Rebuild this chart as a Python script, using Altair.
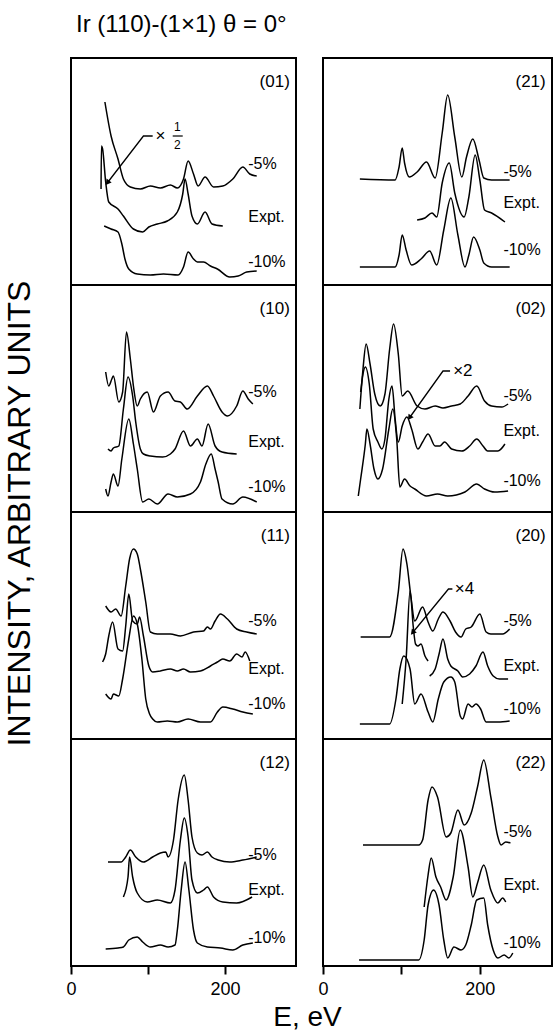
import math
import altair as alt
import pandas as pd

FONT = "Liberation Sans"
X_DOMAIN = [0, 292]
Y_DOMAIN = [0, 227]
LEFT_W, RIGHT_W, PANEL_H = 225, 229, 227

# ---------------- data: energy (eV) and intensity (arb.) ----------------
# (01)
P01_M5_E = [44, 52, 61, 68, 77, 90, 103, 116, 129, 138, 146, 152, 159, 165, 174, 185, 197, 210, 223, 232, 241]
P01_M5_I = [183, 149, 126, 106, 98, 96, 99, 97, 100, 97, 106, 124, 111, 99, 108, 98, 99, 106, 118, 111, 109]
P01_EX_E = [39, 39.5, 41, 45, 49, 61, 68, 81, 93, 101, 112, 125, 138, 145, 148, 152, 157, 164, 174, 183, 197]
P01_EX_I = [96, 139, 136, 103, 83, 76, 69, 56, 53, 58, 61, 64, 73, 91, 106, 91, 69, 61, 73, 61, 59]
P01_M10_E = [43, 52, 61, 66, 70, 75, 86, 103, 120, 139, 146, 152, 159, 164, 172, 181, 190, 206, 217, 228, 241]
P01_M10_I = [59, 56, 53, 41, 26, 16, 11, 10, 11, 10, 18, 33, 26, 23, 23, 19, 16, 8, 9, 13, 14]
# (10)
P10_M5_E = [45, 49, 53, 55, 62, 67, 72, 77, 81, 86, 90, 99, 107, 116, 126, 135, 142, 151, 164, 177, 185, 196, 203, 215, 223, 230, 236]
P10_M5_I = [140, 126, 133, 136, 110, 120, 180, 153, 126, 106, 113, 120, 100, 116, 120, 111, 110, 103, 116, 126, 116, 100, 96, 106, 121, 113, 108]
P10_EX_E = [48, 52, 55, 62, 68, 74, 80, 84, 90, 94, 103, 119, 129, 135, 146, 155, 164, 170, 178, 187, 196, 215]
P10_EX_I = [63, 61, 64, 66, 103, 135, 116, 90, 63, 58, 56, 55, 58, 63, 81, 66, 73, 66, 88, 66, 60, 58]
P10_M10_E = [45, 48, 52, 55, 61, 66, 75, 81, 86, 93, 101, 112, 126, 138, 155, 168, 175, 182, 187, 191, 196, 210, 223, 241]
P10_M10_I = [23, 16, 30, 38, 26, 53, 93, 68, 43, 10, 13, 8, 18, 15, 18, 30, 48, 58, 43, 30, 13, 8, 15, 10]
# (11)
P11_M5_E = [45, 52, 58, 65, 71, 76, 81, 86, 90, 97, 103, 112, 129, 142, 159, 172, 177, 181, 187, 194, 203, 215, 228, 241]
P11_M5_I = [133, 127, 130, 123, 153, 180, 190, 185, 170, 137, 107, 105, 105, 103, 107, 108, 112, 110, 118, 125, 120, 110, 107, 105]
P11_EX_E = [41, 45, 49, 54, 61, 67, 71, 75, 80, 86, 89, 94, 101, 106, 116, 129, 138, 146, 155, 168, 181, 190, 197, 206, 215, 222, 226, 232]
P11_EX_I = [77, 85, 103, 117, 90, 88, 113, 145, 118, 115, 122, 103, 73, 67, 68, 70, 68, 70, 67, 68, 73, 77, 80, 78, 85, 82, 87, 78]
P11_M10_E = [45, 52, 55, 62, 67, 75, 81, 86, 92, 97, 102, 106, 112, 125, 138, 152, 168, 181, 190, 197, 210, 223, 236]
P11_M10_I = [45, 40, 45, 43, 60, 100, 123, 115, 80, 40, 25, 20, 17, 18, 17, 20, 17, 17, 27, 32, 30, 27, 25]
# (12)
P12_M5_E = [48, 65, 71, 77, 84, 94, 106, 116, 123, 126, 133, 139, 147, 152, 157, 164, 170, 177, 183, 191, 206, 223, 241]
P12_M5_I = [104, 104, 109, 116, 109, 104, 109, 113, 114, 109, 126, 166, 191, 166, 129, 113, 111, 114, 109, 106, 104, 106, 109]
P12_EX_E = [68, 74, 76, 80, 86, 99, 112, 129, 135, 142, 147, 152, 157, 164, 172, 177, 185, 197, 215, 235]
P12_EX_I = [69, 89, 109, 89, 73, 64, 66, 63, 76, 126, 148, 129, 86, 73, 76, 79, 69, 64, 63, 69]
P12_M10_E = [45, 61, 68, 75, 86, 93, 103, 116, 126, 135, 138, 143, 148, 153, 159, 164, 177, 194, 210, 223, 236]
P12_M10_I = [17, 18, 19, 26, 29, 24, 19, 21, 19, 21, 36, 76, 104, 76, 36, 23, 19, 18, 16, 21, 23]
# (21)
P21_M5_E = [47, 92, 97, 101, 104, 110, 120, 132, 143, 152, 159, 168, 177, 183, 191, 199, 205, 215, 238]
P21_M5_I = [106, 105, 118, 137, 122, 108, 113, 123, 107, 152, 190, 148, 108, 128, 146, 125, 107, 105, 105]
P21_EX_E = [120, 130, 139, 145, 152, 161, 168, 180, 186, 194, 200, 206, 215, 232]
P21_EX_I = [65, 67, 72, 68, 102, 122, 92, 68, 88, 130, 105, 75, 72, 63]
P21_M10_E = [47, 92, 97, 101, 106, 113, 125, 136, 145, 154, 163, 172, 181, 186, 192, 200, 205, 215, 238]
P21_M10_I = [18, 18, 30, 50, 35, 20, 26, 34, 20, 55, 87, 50, 18, 30, 48, 35, 22, 18, 18]
# (02)
P02_M5_E = [47, 51, 55, 60, 66, 73, 79, 85, 90, 96, 101, 108, 120, 130, 143, 153, 164, 175, 185, 196, 206, 215, 228, 236]
P02_M5_I = [103, 143, 168, 148, 118, 106, 118, 163, 188, 158, 116, 121, 106, 103, 106, 104, 106, 108, 116, 126, 111, 106, 105, 108]
P02_EX_E = [48, 51, 54, 59, 64, 70, 75, 79, 84, 88, 92, 96, 101, 107, 113, 121, 127, 134, 143, 149, 155, 164, 177, 187, 196, 204, 210, 223, 232]
P02_EX_I = [120, 138, 145, 128, 83, 70, 63, 73, 113, 126, 93, 70, 86, 95, 83, 63, 70, 78, 66, 66, 70, 63, 61, 66, 73, 66, 61, 61, 68]
P02_M10_E = [45, 48, 54, 56, 60, 65, 70, 76, 84, 89, 94, 98, 104, 111, 117, 132, 146, 159, 181, 196, 206, 219, 236]
P02_M10_I = [16, 33, 68, 83, 68, 43, 33, 43, 83, 103, 73, 25, 33, 26, 23, 16, 18, 16, 20, 28, 23, 20, 21]
# (20)
P20_M5_E = [48, 85, 96, 102, 107, 112, 117, 127, 134, 140, 147, 153, 162, 169, 176, 182, 189, 200, 208, 214, 229, 238]
P20_M5_I = [102, 102, 147, 190, 175, 143, 118, 132, 117, 108, 120, 127, 118, 107, 102, 110, 112, 125, 107, 105, 105, 110]
P20_EX1_E = [101, 106, 111, 115, 118, 121, 125, 130, 134]
P20_EX1_I = [35, 80, 148, 113, 95, 93, 95, 83, 78]
P20_EX2_E = [136, 143, 148, 153, 159, 163, 172, 178, 187, 195, 204, 210, 217, 225, 236]
P20_EX2_I = [63, 70, 85, 100, 80, 73, 68, 62, 65, 73, 87, 73, 63, 60, 60]
P20_M10_E = [47, 85, 93, 98, 103, 111, 117, 125, 134, 140, 147, 154, 163, 168, 175, 178, 185, 190, 195, 201, 208, 223, 238]
P20_M10_I = [15, 15, 40, 70, 83, 70, 35, 45, 27, 17, 40, 57, 62, 57, 23, 20, 35, 32, 35, 30, 17, 17, 18]
# (22)
P22_M5_E = [51, 122, 127, 134, 139, 146, 157, 163, 172, 180, 189, 197, 205, 214, 223, 227, 233, 239]
P22_M5_I = [121, 121, 126, 166, 179, 169, 129, 133, 156, 141, 153, 179, 206, 169, 129, 121, 124, 123]
P22_EX_E = [129, 134, 138, 144, 150, 157, 166, 175, 185, 191, 197, 205, 214, 223, 229, 233]
P22_EX_I = [59, 91, 108, 89, 79, 66, 89, 136, 99, 69, 83, 101, 76, 63, 68, 64]
P22_M10_E = [46, 122, 129, 134, 141, 148, 154, 159, 167, 176, 182, 189, 196, 205, 210, 217, 223, 231, 237, 242]
P22_M10_I = [6, 6, 26, 61, 76, 61, 26, 8, 19, 16, 21, 41, 66, 68, 41, 16, 8, 11, 8, 13]

# curve labels and their heights per panel (order: -5%, Expt., -10%)
CURVE_LABELS = ["-5%", "Expt.", "-10%"]
LABEL_E = 230
LABEL_I = {
    "01": [121, 68, 23], "10": [120, 70, 25], "11": [118, 70, 35], "12": [111, 76, 28],
    "21": [113, 82, 35], "02": [116, 81, 31], "20": [118, 73, 30], "22": [134, 81, 23],
}
LEFT_PANELS = ["01", "10", "11", "12"]
RIGHT_PANELS = ["21", "02", "20", "22"]

# annotation leader lines: head, knee, end (E, I)
ARROW_E = {"01": [48, 94, 106], "02": [111, 153, 162], "20": [115, 160, 165]}
ARROW_I = {"01": [103, 149, 149], "02": [95, 141, 141], "20": [107, 150, 150]}
ARROW_TEXT = {"02": ("×2", 166, 141), "20": ("×4", 168, 150)}

CURVES = [
    ("01", "m5", P01_M5_E, P01_M5_I), ("01", "ex", P01_EX_E, P01_EX_I), ("01", "m10", P01_M10_E, P01_M10_I),
    ("10", "m5", P10_M5_E, P10_M5_I), ("10", "ex", P10_EX_E, P10_EX_I), ("10", "m10", P10_M10_E, P10_M10_I),
    ("11", "m5", P11_M5_E, P11_M5_I), ("11", "ex", P11_EX_E, P11_EX_I), ("11", "m10", P11_M10_E, P11_M10_I),
    ("12", "m5", P12_M5_E, P12_M5_I), ("12", "ex", P12_EX_E, P12_EX_I), ("12", "m10", P12_M10_E, P12_M10_I),
    ("21", "m5", P21_M5_E, P21_M5_I), ("21", "ex", P21_EX_E, P21_EX_I), ("21", "m10", P21_M10_E, P21_M10_I),
    ("02", "m5", P02_M5_E, P02_M5_I), ("02", "ex", P02_EX_E, P02_EX_I), ("02", "m10", P02_M10_E, P02_M10_I),
    ("20", "m5", P20_M5_E, P20_M5_I), ("20", "ex1", P20_EX1_E, P20_EX1_I), ("20", "ex2", P20_EX2_E, P20_EX2_I),
    ("20", "m10", P20_M10_E, P20_M10_I),
    ("22", "m5", P22_M5_E, P22_M5_I), ("22", "ex", P22_EX_E, P22_EX_I), ("22", "m10", P22_M10_E, P22_M10_I),
]

rows = []
for pid, key, es, vs in CURVES:
    for k, (e, v) in enumerate(zip(es, vs)):
        rows.append({"panel": pid, "key": key, "idx": k, "E": e, "I": v})
df = pd.DataFrame(rows)


def make_panel(pid, width, bottom, title=None):
    if bottom:
        axis = alt.Axis(values=[0, 100, 200], labelExpr="datum.value == 100 ? '' : datum.label",
                        tickSize=8, tickWidth=2, tickColor="black", domain=False, grid=False,
                        labelFontSize=18, labelFont=FONT, labelColor="black", title=None,
                        labelPadding=6, labelFlush=False)
    else:
        axis = None
    x = alt.X("E:Q", scale=alt.Scale(domain=X_DOMAIN, nice=False, zero=False), axis=axis)
    y = alt.Y("I:Q", scale=alt.Scale(domain=Y_DOMAIN, nice=False, zero=False), axis=None)

    lines = alt.Chart(df[df.panel == pid]).mark_line(
        color="black", strokeWidth=1.5, interpolate="monotone"
    ).encode(x=x, y=y, detail="key:N", order="idx:Q")

    lab = pd.DataFrame({"E": [LABEL_E] * 3, "I": LABEL_I[pid], "t": CURVE_LABELS})
    labels = alt.Chart(lab).mark_text(
        align="left", baseline="middle", fontSize=16, font=FONT, color="black"
    ).encode(x=x, y=y, text="t:N")

    pl = pd.DataFrame({"E": [284], "I": [203], "t": [f"({pid})"]})
    plabel = alt.Chart(pl).mark_text(
        align="right", baseline="middle", fontSize=17, font=FONT, color="black"
    ).encode(x=x, y=y, text="t:N")

    layers = [lines, labels, plabel]

    if pid in ARROW_E:
        ae, ai = ARROW_E[pid], ARROW_I[pid]
        adf = pd.DataFrame({"E": ae, "I": ai, "o": [0, 1, 2]})
        layers.append(alt.Chart(adf).mark_line(color="black", strokeWidth=1.3).encode(x=x, y=y, order="o:Q"))
        pxE = width / (X_DOMAIN[1] - X_DOMAIN[0])
        pxI = PANEL_H / (Y_DOMAIN[1] - Y_DOMAIN[0])
        dx = (ae[0] - ae[1]) * pxE
        dy = -(ai[0] - ai[1]) * pxI
        ang = (math.degrees(math.atan2(dx, -dy)) + 360) % 360
        hdf = pd.DataFrame({"E": [ae[0]], "I": [ai[0]]})
        layers.append(alt.Chart(hdf).mark_point(
            shape="triangle", filled=True, size=40, angle=ang, color="black", opacity=1
        ).encode(x=x, y=y))
        if pid in ARROW_TEXT:
            t, te, ti = ARROW_TEXT[pid]
            tdf = pd.DataFrame({"E": [te], "I": [ti], "t": [t]})
            layers.append(alt.Chart(tdf).mark_text(
                align="left", baseline="middle", fontSize=17, font=FONT, color="black"
            ).encode(x=x, y=y, text="t:N"))
        else:
            tdf = pd.DataFrame({"E": [116, 138, 138], "I": [149, 158, 140], "t": ["×", "1", "2"],
                                "s": [17, 12, 12]})
            layers.append(alt.Chart(tdf).mark_text(
                align="center", baseline="middle", font=FONT, color="black"
            ).encode(x=x, y=y, text="t:N", size=alt.Size("s:Q", scale=None, legend=None)))
            bdf = pd.DataFrame({"E": [132, 145], "I": [149, 149]})
            layers.append(alt.Chart(bdf).mark_line(color="black", strokeWidth=1.2).encode(x=x, y=y))

    props = {"width": width, "height": PANEL_H}
    if title is not None:
        props["title"] = title
    return alt.layer(*layers).properties(**props)


top_title = alt.TitleParams("Ir (110)-(1×1)  θ = 0°", anchor="start", fontSize=24, font=FONT,
                            fontWeight="normal", color="black", offset=21, dx=5)

left = alt.vconcat(
    *[make_panel(p, LEFT_W, p == LEFT_PANELS[-1], top_title if p == "01" else None) for p in LEFT_PANELS],
    spacing=0, bounds="flush"
).properties(title=alt.TitleParams("INTENSITY, ARBITRARY UNITS", orient="left", anchor="middle",
                                   fontSize=32, font=FONT, fontWeight="normal", color="black", offset=28,
                                   dx=-8))

right = alt.vconcat(
    *[make_panel(p, RIGHT_W, p == RIGHT_PANELS[-1]) for p in RIGHT_PANELS],
    spacing=0, bounds="flush"
)

chart = alt.hconcat(left, right, spacing=19).properties(
    title=alt.TitleParams("E, eV", orient="bottom", anchor="middle", fontSize=28, font=FONT,
                          fontWeight="normal", color="black", offset=5, dx=29),
    padding={"left": 3, "top": 12, "right": 3, "bottom": 3},
    background="white",
).configure_view(stroke="black", strokeWidth=2)

chart.save("out.html", embed_options={"renderer": "svg", "actions": False})
